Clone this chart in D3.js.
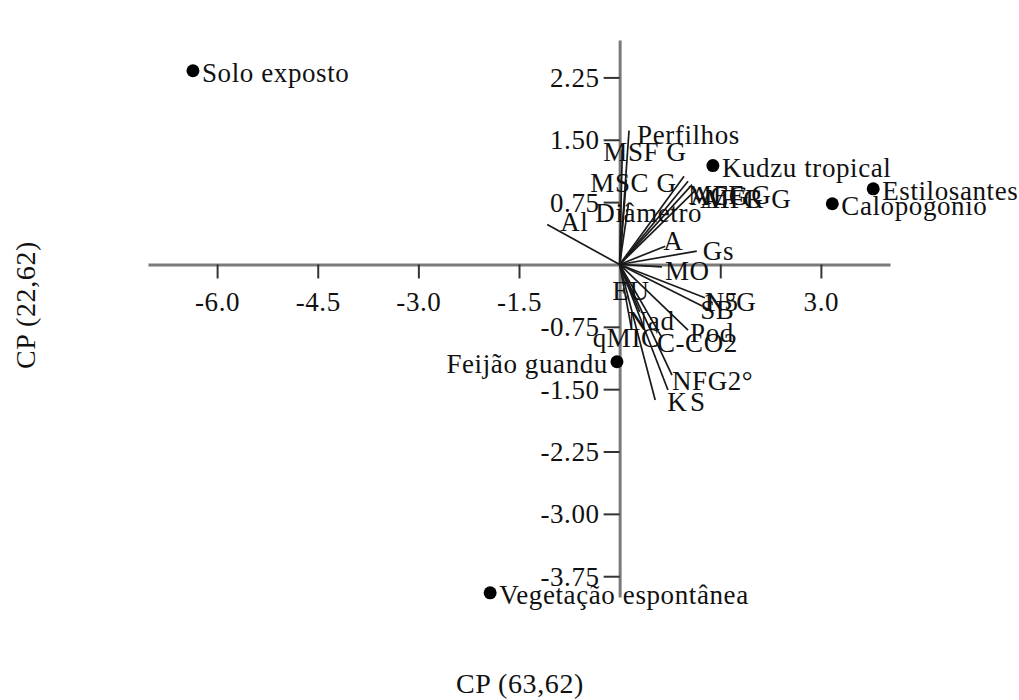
<!DOCTYPE html>
<html>
<head>
<meta charset="utf-8">
<script src="https://cdn.jsdelivr.net/npm/d3@7"></script>
<style>
  html, body { margin: 0; padding: 0; background: #fff; }
  svg { display: block; }
  text { font-family: "Liberation Serif", "Times New Roman", serif; fill: #111; letter-spacing: 0.6px; }
</style>
</head>
<body>
<svg id="chart" width="1019" height="700"></svg>
<script>
// Treatment scores on the first two principal components
const treatments = ["Solo exposto", "Kudzu tropical", "Estilosantes", "Calopogonio", "Feijão guandu", "Vegetação espontânea"];
const scoreX = [-6.36, 1.39, 3.78, 3.17, -0.04, -1.93];
const scoreY = [2.33, 1.19, 0.91, 0.73, -1.17, -3.95];

// Variable loadings drawn as vectors from the origin
const variables = ["Perfilhos", "MSF G", "MSC G", "Diâmetro", "Al", "MFF G", "AF G", "ACG", "MFR G",
                   "A", "Gs", "MO", "EU", "N°G", "SB", "Nad", "qMIC", "C-CO2", "Pod", "NFG2°", "K", "S"];
const loadX = [0.14, 0.04, 0.10, 0.13, -1.08, 0.96, 1.02, 1.08, 1.14,
               0.68, 1.15, 0.63, 0.13, 1.27, 1.23, 0.30, 0.18, 0.63, 1.02, 0.78, 0.53, 0.72];
const loadY = [1.61, 1.38, 1.02, 0.72, 0.48, 1.06, 1.00, 0.96, 0.90,
               0.22, 0.16, -0.03, -0.22, -0.40, -0.50, -0.57, -0.79, -0.88, -0.79, -1.33, -1.63, -1.51];

// Axis ticks
const xTicks = [-6.0, -4.5, -3.0, -1.5, 1.5, 3.0];
const yTicks = [2.25, 1.50, 0.75, -0.75, -1.50, -2.25, -3.00, -3.75];
const xTitle = "CP (63,62)";
const yTitle = "CP (22,62)";

const svg = d3.select("#chart");
const x = d3.scaleLinear().domain([-7.03, 4.03]).range([148, 890]);
const y = d3.scaleLinear().domain([-4.0, 2.7]).range([597, 40]);
const x0 = x(0), y0 = y(0);

// plain hyphen for negative numbers
const fmt = f => v => d3.format(f)(v).replace("\u2212", "-");

// Label placement tweaks (px) so crowded vector names sit beside their arrows
const labelShift = {
  "Perfilhos": [8, 4], "MSF G": [-19, 2], "MSC G": [-36, 3], "Diâmetro": [-33, 8], "Al": [13, -3],
  "MFF G": [4, 19], "AF G": [12, 18], "ACG": [-2, 11], "MFR G": [9, 9],
  "A": [-2, -5], "Gs": [6, 0], "MO": [3, 4], "EU": [-16, 8], "N°G": [0, 4], "SB": [-2, 4],
  "Nad": [-12, 9], "qMIC": [-39, 8], "C-CO2": [-5, 5], "Pod": [2, 3], "NFG2°": [0, 6],
  "K": [12, 2], "S": [22, 12]
};

// Axes crossing at the origin
const xAxis = d3.axisBottom(x).tickValues(xTicks).tickFormat(fmt(".1f"))
  .tickSize(14).tickSizeOuter(0);
const yAxis = d3.axisLeft(y).tickValues(yTicks).tickFormat(fmt(".2f"))
  .tickSize(16).tickSizeOuter(0);

const gx = svg.append("g").attr("transform", `translate(0,${y0})`).call(xAxis);
const gy = svg.append("g").attr("transform", `translate(${x0},0)`).call(yAxis);

[gx, gy].forEach(g => {
  g.select(".domain").attr("stroke", "#7a7a7a").attr("stroke-width", 3);
  g.selectAll(".tick line").attr("stroke", "#333").attr("stroke-width", 2);
  g.selectAll(".tick text").attr("font-size", 27).attr("fill", "#111")
    .style("font-family", "'Liberation Serif', serif");
});
gx.selectAll(".tick text").attr("y", 38).attr("dy", null).attr("dominant-baseline", "central");
gy.selectAll(".tick text").attr("x", -20).attr("dy", null).attr("dominant-baseline", "central");

// Loading vectors
const vec = variables.map((name, i) => ({ name, lx: loadX[i], ly: loadY[i] }));
svg.append("g").selectAll("line").data(vec).join("line")
  .attr("x1", x0).attr("y1", y0)
  .attr("x2", d => x(d.lx)).attr("y2", d => y(d.ly))
  .attr("stroke", "#1a1a1a").attr("stroke-width", 1.7);

svg.append("g").selectAll("text").data(vec).join("text")
  .attr("x", d => x(d.lx) + (labelShift[d.name] || [7, 4])[0])
  .attr("y", d => y(d.ly) + (labelShift[d.name] || [7, 4])[1])
  .attr("dominant-baseline", "central")
  .attr("font-size", 27)
  .text(d => d.name);

// Treatment scores
const pts = treatments.map((name, i) => ({ name, sx: scoreX[i], sy: scoreY[i] }));
svg.append("g").selectAll("circle").data(pts).join("circle")
  .attr("cx", d => x(d.sx)).attr("cy", d => y(d.sy)).attr("r", 6.5).attr("fill", "#000");

svg.append("g").selectAll("text").data(pts).join("text")
  .attr("x", d => d.name === "Feijão guandu" ? x(d.sx) - 9 : x(d.sx) + 9)
  .attr("y", d => y(d.sy) + 2)
  .attr("text-anchor", d => d.name === "Feijão guandu" ? "end" : "start")
  .attr("dominant-baseline", "central")
  .attr("font-size", 27)
  .text(d => d.name);

// Axis titles
svg.append("text").attr("x", 520).attr("y", 683)
  .attr("text-anchor", "middle").attr("dominant-baseline", "central")
  .attr("font-size", 28).text(xTitle);
svg.append("text")
  .attr("transform", "translate(25,305) rotate(-90)")
  .attr("text-anchor", "middle").attr("dominant-baseline", "central")
  .attr("font-size", 28).text(yTitle);
</script>
</body>
</html>
